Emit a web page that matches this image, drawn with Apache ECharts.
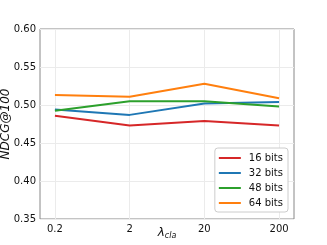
<!DOCTYPE html>
<html><head><meta charset="utf-8">
<script src="https://cdn.jsdelivr.net/npm/echarts@6/dist/echarts.min.js"></script>
<style>html,body{margin:0;padding:0;background:#fff}#c{width:327px;height:245px}</style>
</head><body><div id="c"></div>
<script>
const categories = ['0.2', '2', '20', '200'];
const seriesNames = ['16 bits', '32 bits', '48 bits', '64 bits'];
const bits16 = [0.486, 0.473, 0.479, 0.473];
const bits32 = [0.494, 0.487, 0.502, 0.504];
const bits48 = [0.4925, 0.505, 0.505, 0.498];
const bits64 = [0.513, 0.511, 0.528, 0.509];
const yTicks = [0.35, 0.40, 0.45, 0.50, 0.55, 0.60];
const colors = ['#d62728', '#1f77b4', '#2ca02c', '#ff7f0e'];
const allData = [bits16, bits32, bits48, bits64];
const xIdx = categories.map((c, i) => i);

const font = 'DejaVu Sans';
const chart = echarts.init(document.getElementById('c'), null, {renderer: 'canvas'});
chart.setOption({
  animation: false,
  backgroundColor: '#fff',
  grid: {left: 40, right: 33, top: 29, bottom: 26, containLabel: false, outerBoundsMode: 'none',
         show: true, borderColor: '#888', borderWidth: 1},
  xAxis: {
    type: 'value', min: -0.2, max: 3.2,
    axisLine: {show: false},
    axisTick: {show: false, customValues: xIdx},
    splitLine: {show: true, lineStyle: {color: '#ebebeb', width: 1}},
    axisLabel: {
      fontFamily: font, fontSize: 10, color: '#111', margin: 5,
      customValues: xIdx,
      formatter: v => categories[Math.round(v)]
    },
    name: '{a|λ}{b|cla}', nameLocation: 'middle', nameGap: 7, nameMoveOverlap: false,
    nameTextStyle: {
      rich: {
        a: {fontFamily: font, fontStyle: 'italic', fontSize: 12, color: '#111', lineHeight: 14},
        b: {fontFamily: font, fontStyle: 'italic', fontSize: 8, color: '#111', verticalAlign: 'bottom', padding: [5, 0, 0, 0], lineHeight: 14}
      }
    }
  },
  yAxis: {
    type: 'value', min: 0.35, max: 0.60, interval: 0.05,
    axisLine: {show: false}, axisTick: {show: false},
    splitLine: {show: true, lineStyle: {color: '#ebebeb', width: 1}},
    axisLabel: {fontFamily: font, fontSize: 10, color: '#111', margin: 4, formatter: v => v.toFixed(2)},
    name: 'NDCG@100', nameLocation: 'middle', nameGap: 28, nameMoveOverlap: false,
    nameTextStyle: {fontFamily: font, fontStyle: 'italic', fontSize: 12, color: '#111'}
  },
  legend: {
    orient: 'vertical', right: 39, bottom: 33,
    data: seriesNames,
    itemWidth: 22, itemHeight: 2, itemGap: 5,
    icon: 'rect',
    borderColor: '#cccccc', borderWidth: 1, borderRadius: 3,
    backgroundColor: '#fff',
    padding: [5, 5, 4, 4],
    textStyle: {fontFamily: font, fontSize: 10, color: '#111', padding: [0, 0, 0, 3]}
  },
  series: seriesNames.map((n, k) => ({
    name: n, type: 'line', symbol: 'none',
    data: allData[k].map((v, i) => [i, v]),
    lineStyle: {color: colors[k], width: 2},
    itemStyle: {color: colors[k]}
  }))
});
</script></body></html>
